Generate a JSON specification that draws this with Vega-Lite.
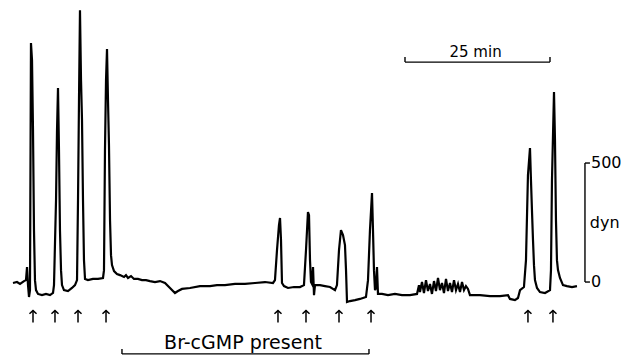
{
  "$schema": "https://vega.github.io/schema/vega-lite/v6.json",
  "width": 624,
  "height": 357,
  "padding": 0,
  "autosize": {"type": "fit", "contains": "padding"},
  "background": "white",
  "config": {"view": {"stroke": null}},
  "datasets": {
    "trace": [
      {"t":2.24,"f":-4},{"t":2.93,"f":0},{"t":3.45,"f":-8},{"t":4.14,"f":4},{"t":4.48,"f":8},{"t":4.66,"f":63},{"t":4.83,"f":-13},{"t":5.0,"f":-63},{"t":5.17,"f":-34},{"t":5.34,"f":1004},{"t":5.52,"f":932},{"t":5.69,"f":638},{"t":5.86,"f":218},{"t":6.03,"f":8},{"t":6.21,"f":-34},{"t":6.55,"f":-50},{"t":7.24,"f":-55},{"t":7.93,"f":-50},{"t":8.62,"f":-55},{"t":9.14,"f":-46},{"t":9.31,"f":-13},{"t":9.66,"f":344},{"t":9.83,"f":638},{"t":10.0,"f":815},{"t":10.17,"f":554},{"t":10.34,"f":218},{"t":10.52,"f":50},{"t":10.69,"f":-13},{"t":11.03,"f":-34},{"t":11.72,"f":-38},{"t":12.41,"f":-25},{"t":12.93,"f":-13},{"t":13.28,"f":8},{"t":13.45,"f":344},{"t":13.62,"f":764},{"t":13.79,"f":1142},{"t":13.97,"f":848},{"t":14.14,"f":680},{"t":14.31,"f":344},{"t":14.48,"f":92},{"t":14.66,"f":13},{"t":15.17,"f":8},{"t":16.03,"f":13},{"t":16.9,"f":13},{"t":17.76,"f":17},{"t":17.93,"f":50},{"t":18.1,"f":554},{"t":18.28,"f":848},{"t":18.45,"f":979},{"t":18.62,"f":764},{"t":18.79,"f":575},{"t":18.97,"f":260},{"t":19.14,"f":113},{"t":19.31,"f":71},{"t":19.66,"f":46},{"t":20.17,"f":34},{"t":20.69,"f":29},{"t":21.38,"f":21},{"t":21.72,"f":29},{"t":22.07,"f":17},{"t":22.59,"f":25},{"t":23.1,"f":13},{"t":23.79,"f":13},{"t":24.48,"f":8},{"t":25.17,"f":8},{"t":25.86,"f":4},{"t":26.72,"f":0},{"t":27.59,"f":4},
      {"t":28.45,"f":-4},{"t":29.31,"f":-25},{"t":30.17,"f":-46},{"t":30.69,"f":-38},{"t":31.38,"f":-29},{"t":32.76,"f":-25},{"t":34.48,"f":-17},{"t":36.21,"f":-17},{"t":37.41,"f":-13},{"t":38.79,"f":-13},{"t":40.52,"f":-8},{"t":42.24,"f":-8},{"t":43.97,"f":-4},{"t":45.69,"f":0},{"t":47.07,"f":-4},{"t":47.41,"f":8},{"t":47.76,"f":134},{"t":48.1,"f":239},{"t":48.28,"f":269},{"t":48.45,"f":176},{"t":48.62,"f":-4},{"t":48.97,"f":-17},{"t":49.66,"f":-25},{"t":50.69,"f":-21},{"t":51.72,"f":-21},{"t":52.41,"f":-13},{"t":52.76,"f":134},{"t":53.1,"f":294},{"t":53.28,"f":281},{"t":53.45,"f":92},{"t":53.62,"f":0},{"t":53.79,"f":-8},{"t":53.97,"f":63},{"t":54.14,"f":-55},{"t":54.31,"f":-13},{"t":55.17,"f":-13},{"t":56.03,"f":-17},{"t":56.9,"f":-21},{"t":57.76,"f":-34},{"t":58.1,"f":-13},{"t":58.45,"f":134},{"t":58.79,"f":218},{"t":59.14,"f":197},{"t":59.48,"f":155},{"t":59.66,"f":50},{"t":59.83,"f":-84},{"t":60.34,"f":-80},{"t":61.21,"f":-76},{"t":62.07,"f":-71},{"t":63.1,"f":-63},{"t":63.45,"f":8},{"t":63.79,"f":218},{"t":64.14,"f":374},{"t":64.31,"f":218},{"t":64.48,"f":50},{"t":64.66,"f":-34},{"t":64.83,"f":-25},{"t":65.0,"f":63},{"t":65.17,"f":-50},{"t":65.86,"f":-50},{"t":66.9,"f":-55},{"t":68.1,"f":-50},{"t":69.31,"f":-55},{"t":70.69,"f":-55},{"t":71.9,"f":-50},
      {"t":72.24,"f":-13},{"t":72.41,"f":-42},{"t":72.76,"f":0},{"t":73.1,"f":-46},{"t":73.45,"f":8},{"t":73.79,"f":-38},{"t":74.14,"f":-8},{"t":74.48,"f":-50},{"t":74.83,"f":4},{"t":75.17,"f":-38},{"t":75.52,"f":17},{"t":75.86,"f":-34},{"t":76.21,"f":-4},{"t":76.55,"f":-46},{"t":76.9,"f":13},{"t":77.24,"f":-38},{"t":77.59,"f":-4},{"t":77.93,"f":-42},{"t":78.28,"f":8},{"t":78.62,"f":-34},{"t":78.97,"f":-8},{"t":79.31,"f":-42},{"t":79.66,"f":0},{"t":80.0,"f":-34},{"t":80.34,"f":-17},{"t":80.69,"f":-29},{"t":81.03,"f":-55},{"t":82.76,"f":-55},{"t":84.48,"f":-59},{"t":86.21,"f":-59},{"t":87.59,"f":-55},{"t":87.93,"f":-71},{"t":88.79,"f":-76},{"t":89.31,"f":-67},{"t":89.66,"f":-34},{"t":90.34,"f":-21},{"t":90.69,"f":92},{"t":91.03,"f":449},{"t":91.38,"f":563},{"t":91.55,"f":428},{"t":91.72,"f":302},{"t":91.9,"f":176},{"t":92.07,"f":71},{"t":92.24,"f":8},{"t":92.59,"f":-25},{"t":93.1,"f":-42},{"t":93.97,"f":-46},{"t":94.83,"f":-34},{"t":95.0,"f":50},{"t":95.17,"f":428},{"t":95.52,"f":798},{"t":95.69,"f":596},{"t":95.86,"f":260},{"t":96.03,"f":92},{"t":96.21,"f":50},{"t":96.55,"f":17},{"t":97.07,"f":-13},{"t":97.76,"f":-17},{"t":98.62,"f":-21},{"t":99.48,"f":-17}
    ],
    "arrows": [
      {"t":5.69},{"t":9.48},{"t":13.45},{"t":18.28},{"t":47.93},{"t":52.76},{"t":58.45},{"t":63.97},{"t":91.03},{"t":95.34}
    ],
    "segs": [
      {"x":69.83,"x2":94.83,"y":924,"y2":924},
      {"x":69.83,"x2":69.83,"y":924,"y2":945},
      {"x":94.83,"x2":94.83,"y":924,"y2":945},
      {"x":21.03,"x2":63.62,"y":-302,"y2":-302},
      {"x":21.03,"x2":21.03,"y":-302,"y2":-281},
      {"x":63.62,"x2":63.62,"y":-302,"y2":-281},
      {"x":100.86,"x2":100.86,"y":0,"y2":500},
      {"x":100.86,"x2":101.72,"y":500,"y2":500},
      {"x":100.86,"x2":101.72,"y":0,"y2":0}
    ],
    "centerLabels": [
      {"x":82.0,"y":966,"text":"25 min","size":15},
      {"x":41.9,"y":-256,"text":"Br-cGMP present","size":19}
    ],
    "leftLabels": [
      {"x":101.9,"y":500,"text":"500"},
      {"x":101.7,"y":248,"text":"dyn"},
      {"x":101.9,"y":0,"text":"0"}
    ]
  },
  "layer": [
    {
      "data": {"name": "trace"},
      "mark": {"type": "line", "color": "black", "strokeWidth": 2.2, "strokeJoin": "miter", "strokeMiterLimit": 4},
      "encoding": {
        "x": {"field": "t", "type": "quantitative", "scale": {"domain": [0, 107.59], "nice": false, "zero": false}, "axis": null},
        "y": {"field": "f", "type": "quantitative", "scale": {"domain": [-315, 1185], "nice": false, "zero": false}, "axis": null}
      }
    },
    {
      "data": {"name": "segs"},
      "mark": {"type": "rule", "color": "black", "strokeWidth": 1.4},
      "encoding": {
        "x": {"field": "x", "type": "quantitative"},
        "x2": {"field": "x2"},
        "y": {"field": "y", "type": "quantitative"},
        "y2": {"field": "y2"}
      }
    },
    {
      "data": {"name": "arrows"},
      "mark": {"type": "rule", "color": "black", "strokeWidth": 1.5},
      "encoding": {
        "x": {"field": "t", "type": "quantitative"},
        "y": {"datum": -170},
        "y2": {"datum": -120}
      }
    },
    {
      "data": {"name": "arrows"},
      "mark": {"type": "point", "shape": "M-1,0.9L0,0L1,0.9", "filled": false, "stroke": "black", "strokeWidth": 1.5, "size": 50, "opacity": 1},
      "encoding": {
        "x": {"field": "t", "type": "quantitative"},
        "y": {"datum": -120}
      }
    },
    {
      "data": {"name": "centerLabels"},
      "mark": {"type": "text", "color": "black", "font": "DejaVu Sans", "baseline": "middle", "align": "center"},
      "encoding": {
        "x": {"field": "x", "type": "quantitative"},
        "y": {"field": "y", "type": "quantitative"},
        "text": {"field": "text"},
        "size": {"field": "size", "type": "quantitative", "scale": null}
      }
    },
    {
      "data": {"name": "leftLabels"},
      "mark": {"type": "text", "color": "black", "font": "DejaVu Sans", "baseline": "middle", "align": "left", "fontSize": 16},
      "encoding": {
        "x": {"field": "x", "type": "quantitative"},
        "y": {"field": "y", "type": "quantitative"},
        "text": {"field": "text"}
      }
    }
  ]
}
